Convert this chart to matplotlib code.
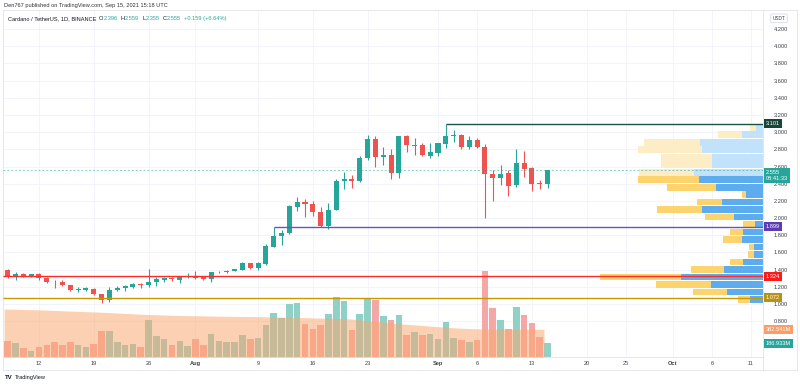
"""ADA/USDT daily candles (TradingView style) with volume, volume MA and a visible-range volume profile."""
import numpy as np
import pandas as pd
import matplotlib
matplotlib.use("Agg")
import matplotlib.pyplot as plt
import matplotlib.dates as mdates
from matplotlib.lines import Line2D
from matplotlib.transforms import blended_transform_factory as blend

plt.rcParams["font.family"] = ["Liberation Sans", "DejaVu Sans"]

# ---- data -------------------------------------------------------------------
dates = pd.date_range("2021-07-08", "2021-09-15", freq="D")

opens = [1.395, 1.320, 1.345, 1.322, 1.350, 1.305, 1.258, 1.260, 1.220, 1.165,
         1.162, 1.180, 1.113, 1.050, 1.165, 1.185, 1.200, 1.235, 1.220, 1.252,
         1.283, 1.300, 1.280, 1.310, 1.326, 1.310, 1.290, 1.368, 1.375, 1.387,
         1.398, 1.474, 1.420, 1.465, 1.667, 1.792, 1.823, 2.135, 2.190, 2.160,
         2.067, 1.910, 2.100, 2.435, 2.455, 2.430, 2.697, 2.918, 2.715, 2.740,
         2.520, 2.950, 2.842, 2.848, 2.725, 2.762, 2.860, 2.955, 2.967, 2.830,
         2.915, 2.830, 2.510, 2.467, 2.520, 2.380, 2.638, 2.580, 2.400, 2.396]
highs = [1.410, 1.375, 1.360, 1.355, 1.360, 1.315, 1.280, 1.280, 1.225, 1.195,
         1.200, 1.185, 1.120, 1.200, 1.205, 1.220, 1.250, 1.250, 1.405, 1.310,
         1.320, 1.315, 1.330, 1.360, 1.384, 1.330, 1.375, 1.385, 1.390, 1.410,
         1.490, 1.480, 1.485, 1.700, 1.899, 1.860, 2.150, 2.250, 2.220, 2.200,
         2.130, 2.170, 2.450, 2.540, 2.500, 2.720, 2.970, 2.950, 2.830, 2.800,
         2.960, 2.970, 2.930, 2.870, 2.870, 2.880, 3.101, 3.020, 2.975, 2.950,
         2.930, 2.860, 2.560, 2.620, 2.560, 2.800, 2.780, 2.600, 2.440, 2.559]
lows = [1.305, 1.277, 1.310, 1.315, 1.285, 1.245, 1.190, 1.210, 1.150, 1.140,
        1.150, 1.105, 1.010, 1.020, 1.155, 1.150, 1.190, 1.190, 1.200, 1.210,
        1.260, 1.270, 1.250, 1.300, 1.290, 1.280, 1.255, 1.360, 1.360, 1.380,
        1.390, 1.410, 1.400, 1.450, 1.660, 1.690, 1.810, 2.080, 2.010, 2.030,
        1.900, 1.870, 2.090, 2.340, 2.350, 2.420, 2.680, 2.590, 2.620, 2.460,
        2.470, 2.775, 2.740, 2.720, 2.700, 2.720, 2.820, 2.890, 2.800, 2.810,
        2.820, 2.000, 2.200, 2.380, 2.260, 2.360, 2.480, 2.310, 2.340, 2.355]
closes = [1.315, 1.345, 1.320, 1.345, 1.300, 1.253, 1.252, 1.220, 1.160, 1.172,
          1.183, 1.113, 1.047, 1.163, 1.190, 1.210, 1.235, 1.222, 1.252, 1.288,
          1.300, 1.287, 1.315, 1.325, 1.306, 1.290, 1.370, 1.377, 1.388, 1.402,
          1.474, 1.420, 1.474, 1.675, 1.792, 1.823, 2.140, 2.190, 2.160, 2.067,
          1.908, 2.100, 2.435, 2.455, 2.430, 2.700, 2.918, 2.715, 2.740, 2.520,
          2.950, 2.848, 2.852, 2.734, 2.766, 2.870, 2.960, 2.967, 2.824, 2.915,
          2.830, 2.510, 2.467, 2.513, 2.377, 2.638, 2.570, 2.397, 2.396, 2.555]

# volume in millions of ADA, and its moving average (orange area)
volume_m = [217, 197, 120, 87, 138, 161, 203, 170, 203, 161,
            138, 175, 355, 355, 203, 161, 175, 138, 515, 294,
            248, 161, 225, 148, 248, 161, 313, 225, 203, 203,
            304, 248, 258, 437, 603, 534, 727, 741, 460, 391,
            446, 598, 824, 769, 368, 598, 805, 787, 570, 506,
            584, 299, 341, 299, 313, 244, 487, 258, 235, 211,
            230, 1183, 672, 506, 391, 694, 575, 469, 272, 186.933]
volume_ma_m = [662, 660, 657, 654, 651, 649, 644, 640, 636, 632,
               628, 624, 620, 615, 610, 604, 599, 593, 588, 584,
               581, 578, 575, 573, 570, 569, 566, 564, 563, 562,
               560, 559, 558, 556, 553, 552, 549, 546, 544, 541,
               538, 535, 533, 530, 527, 518, 508, 497, 486, 475,
               464, 455, 447, 439, 431, 422, 414, 407, 400, 395,
               391, 388, 386, 385, 384, 384, 383, 383, 383, 382.541]

# volume profile rows, bottom -> top (relative up / down volume)
vp_up = [12.7, 35.7, 51.7, 81.7, 39.0, 20.0, 9.3, 9.3, 21.0, 20.0, 8.3, 29.3,
         61.0, 41.0, 16.7, 47.3, 64.3, 69.0, 51.0, 51.0, 60.7, 63.3, 21.0, 6.7]
vp_down = [12.3, 34.7, 55.7, 81.7, 33.3, 13.3, 5.7, 5.0, 19.0, 12.7, 11.7, 28.3,
           45.0, 24.7, 4.3, 48.7, 60.7, 55.0, 50.7, 50.7, 64.3, 55.7, 23.7, 6.7]
vp_range = (1.01, 3.101)
vp_value_area_rows = 17          # rows counted from the bottom

price_ticks = [0.8, 1.0, 1.2, 1.4, 1.6, 1.8, 2.0, 2.2, 2.4, 2.6, 2.8, 3.0,
               3.2, 3.4, 3.6, 3.8, 4.0, 4.2]
date_ticks = ["2021-07-12", "2021-07-19", "2021-07-26", "2021-08-01", "2021-08-09",
              "2021-08-16", "2021-08-23", "2021-09-01", "2021-09-06", "2021-09-13",
              "2021-09-20", "2021-09-25", "2021-10-01", "2021-10-06", "2021-10-11"]
date_labels = ["12", "19", "26", "Aug", "9", "16", "23", "Sep", "6", "13",
               "20", "25", "Oct", "6", "11"]

# horizontal levels: price, start date (None = full width), line colour, tag colour
levels = [
    (3.101, "2021-09-02", "#1d5346", "#174638"),
    (1.899, "2021-08-11", "#6b52bd", "#5c3bb5"),
    (1.324, None, "#ff2b2b", "#ff1a1a"),
    (1.072, None, "#c69a06", "#bb920f"),
]
last_price = 2.555

UP, DOWN = "#26a69a", "#ef5350"
UP_VOL, DOWN_VOL = "#8fd0c7", "#f5a7a5"
GRID = "#f0f3fa"
BORDER = "#e0e3eb"
TXT = "#3c404b"
FS = 4.1

# ---- layout ------------------------------------------------------------------
W, H = 800, 385
fig = plt.figure(figsize=(W / 100, H / 100), dpi=100)
fig.patch.set_facecolor("white")
L, R, T, B = 3, 763, 10, 357
pos = [L / W, 1 - B / H, (R - L) / W, (B - T) / H]

ax = fig.add_axes(pos)
ax_vol = fig.add_axes(pos, sharex=ax)
ax_vp = fig.add_axes(pos, sharey=ax)
ax.set_zorder(1)
ax_vol.set_zorder(2)
ax_vp.set_zorder(3)
for a in (ax_vol, ax_vp):
    a.patch.set_visible(False)
    a.axis("off")

x = mdates.date2num(dates)
x_ref = mdates.date2num(pd.Timestamp("2021-07-12"))
ax.set_xlim(x_ref - 4.6, x_ref + 92.54)
ax.set_ylim(0.383, 4.4226)
ax_vol.set_ylim(0, 4789)

# grid + axes decoration
ax.set_yticks(price_ticks)
ax.set_yticklabels([f"{v:.3f}" for v in price_ticks])
ax.yaxis.tick_right()
ax.set_xticks(mdates.date2num(pd.to_datetime(date_ticks)))
ax.set_xticklabels(date_labels)
for lbl in ax.get_xticklabels():
    if lbl.get_text() in ("Aug", "Sep", "Oct"):
        lbl.set_fontweight("bold")
ax.tick_params(axis="y", length=0, pad=7.5, labelsize=FS, labelcolor=TXT)
ax.tick_params(axis="x", length=0, pad=3.2, labelsize=FS, labelcolor=TXT)
ax.grid(True, color=GRID, linewidth=0.6)
ax.set_axisbelow(True)
for s in ax.spines.values():
    s.set_visible(False)

# candles
o, h, l, c = map(np.array, (opens, highs, lows, closes))
up = c >= o
cols = np.where(up, UP, DOWN)
ax.vlines(x, l, h, colors=cols, linewidth=0.8, zorder=3)
ax.bar(x, np.maximum(np.abs(c - o), 0.008), bottom=np.minimum(o, c),
       width=0.64, color=cols, linewidth=0, zorder=4)

# volume + MA
ax_vol.bar(x, volume_m, width=0.84, color=np.where(up, UP_VOL, DOWN_VOL), linewidth=0)
ax_vol.fill_between(x - 0.45, 0, volume_ma_m, color="#fba76e", alpha=0.52, linewidth=0)

# volume profile
edges = np.linspace(vp_range[0], vp_range[1], len(vp_up) + 1)
row_h = edges[1] - edges[0]
mid = edges[:-1] + row_h / 2
vp_up_a, vp_down_a = np.array(vp_up), np.array(vp_down)
in_va = np.arange(len(vp_up)) < vp_value_area_rows
ax_vp.barh(mid, vp_up_a, height=row_h * 0.9,
           color=np.where(in_va, "#5dadee", "#c2e1fa"), linewidth=0)
ax_vp.barh(mid, vp_down_a, left=vp_up_a, height=row_h * 0.9,
           color=np.where(in_va, "#fcd36c", "#fdedc6"), linewidth=0)
ax_vp.set_xlim((vp_up_a + vp_down_a).max() / 0.215, 0)

# level lines (on top layer) and their tags
x0, x1 = ax.get_xlim()
tag_tr = blend(ax.transAxes, ax.transData)
for price, start, lc, tc in levels:
    xs = x0 if start is None else mdates.date2num(pd.Timestamp(start))
    ax_vp.plot([xs, x1], [price, price], color=lc, linewidth=1.0,
               transform=ax.transData, solid_capstyle="butt")
    ax.text(1.004, price, f"{price:.3f}", transform=tag_tr, fontsize=FS,
            color="white", va="center", ha="left", zorder=10, clip_on=False,
            bbox=dict(boxstyle="square,pad=0.35", fc=tc, ec="none"))
ax_vp.plot([x0, x1], [last_price, last_price], color=UP, alpha=0.55,
           linewidth=0.7, linestyle=(0, (2, 2)), transform=ax.transData)
ax.text(1.004, last_price, f"{last_price:.3f}\n08:41:33", transform=tag_tr,
        fontsize=FS, color="white", va="top", ha="left", zorder=10, clip_on=False,
        linespacing=1.25, bbox=dict(boxstyle="square,pad=0.35", fc=UP, ec="none"))
ax.set_ylim(0.383, 4.4226)

vol_tr = blend(ax_vol.transAxes, ax_vol.transData)
ax_vol.text(1.004, volume_ma_m[-1], f"{volume_ma_m[-1]:.3f}M", transform=vol_tr,
            fontsize=FS, color="white", va="center", ha="left", clip_on=False,
            bbox=dict(boxstyle="square,pad=0.35", fc="#f99d6a", ec="none"))
ax_vol.text(1.004, volume_m[-1], f"{volume_m[-1]:.3f}M", transform=vol_tr,
            fontsize=FS, color="white", va="center", ha="left", clip_on=False,
            bbox=dict(boxstyle="square,pad=0.35", fc=UP, ec="none"))

# frame lines
def fline(xa, ya):
    fig.add_artist(Line2D([v / W for v in xa], [1 - v / H for v in ya],
                          color=BORDER, linewidth=0.6, transform=fig.transFigure))

fline([L, 797], [T, T])
fline([L, 797], [370, 370])
fline([L, L], [T, 370])
fline([797, 797], [T, 370])
fline([R, R], [T, 370])
fline([L, R], [B, B])

# header / legend / branding
fig.text(4 / W, 1 - 5 / H, "Den767 published on TradingView.com, Sep 15, 2021 15:18 UTC",
         fontsize=FS, color="#333333", va="center")

renderer = fig.canvas.get_renderer()
legend_bits = [(7.5, "Cardano / TetherUS, 1D, BINANCE", "#131722"),
               (95.5, "O", "#131722"), (99.0, "2.396", UP),
               (111.5, "H", "#131722"), (115.0, "2.559", UP),
               (126.5, "L", "#131722"), (129.5, "2.355", UP),
               (141.0, "C", "#131722"), (144.5, "2.555", UP),
               (156.5, "+0.159 (+6.64%)", UP)]
prev_end = 0
for px, s, col in legend_bits:
    gap = 0.3 if s[0].isdigit() else 3.0
    px = max(px, prev_end + gap)
    t = fig.text(px / W, 1 - 18.5 / H, s, fontsize=FS, color=col, va="center")
    prev_end = t.get_window_extent(renderer).x1

fig.text(779 / W, 1 - 18.3 / H, "USDT", fontsize=3.4, color=TXT, ha="center", va="center",
         bbox=dict(boxstyle="round,pad=0.4,rounding_size=0.3", fc="white", ec="#d1d4dc", lw=0.5))
fig.text(5 / W, 1 - 377.5 / H, "TV", fontsize=4.4, color="#131722", fontweight="bold",
         va="center")
fig.text(15 / W, 1 - 377.5 / H, "TradingView", fontsize=FS, color="#131722", va="center")

fig.savefig("out.png", dpi=100, facecolor="white")
